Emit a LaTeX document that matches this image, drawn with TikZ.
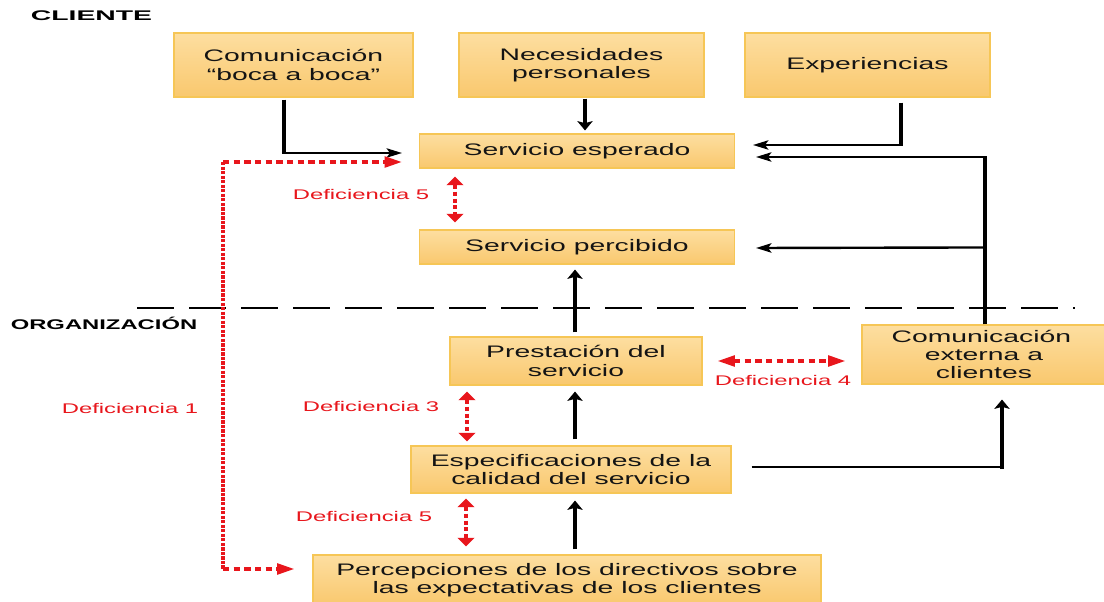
\documentclass[tikz,border=0pt]{standalone}
\usepackage{fontspec}
\setmainfont{Liberation Sans}
\newfontfamily\widefont[FakeStretch=1.7]{Liberation Sans}
\usetikzlibrary{arrows.meta,calc}
\definecolor{boxtop}{RGB}{253,222,160}
\definecolor{boxbot}{RGB}{249,200,110}
\definecolor{boxline}{RGB}{246,198,86}
\definecolor{defred}{RGB}{232,22,28}
\definecolor{txt}{RGB}{20,20,20}
\begin{document}
\begin{tikzpicture}[x=0.75pt,y=-0.75pt,
  box/.style={draw=boxline, line width=0.8pt, top color=boxtop, bottom color=boxbot,
    inner sep=0pt, align=center, text=txt,
    font=\widefont\fontsize{12.5}{13.6}\selectfont},
  sz/.style 2 args={minimum width=#1*0.75pt, minimum height=#2*0.75pt},
  head/.style={font=\widefont\bfseries\fontsize{10.5}{12}\selectfont, text=black, inner sep=0pt},
  deflab/.style={font=\widefont\fontsize{10.5}{12}\selectfont, text=defred, inner sep=0pt},
  vline/.style={draw=black, line width=3pt},
  hline/.style={draw=black, line width=1.8pt},
  arrV/.style={vline, -{Stealth[length=7pt,width=11.5pt,inset=1.5pt]}},
  arrH/.style={hline, -{Stealth[length=11.5pt,width=7pt,inset=2.5pt]}},
  redV/.style={draw=defred, line width=3.2pt, dash pattern=on 3pt off 2.2pt,
    {Triangle[length=6.5pt,width=12.5pt]}-{Triangle[length=6.5pt,width=12.5pt]}},
  redH/.style={draw=defred, line width=2.5pt, dash pattern=on 4.8pt off 3.2pt},
  redHtip/.style={-{Triangle[length=13pt,width=8pt]}},
  redHboth/.style={{Triangle[length=13pt,width=8pt]}-{Triangle[length=13pt,width=8pt]}},
  redVdot/.style={draw=defred, line width=3.6pt, dash pattern=on 2.4pt off 1pt}
]
\useasboundingbox (0,0) rectangle (1104,602);
\fill[white] (0,0) rectangle (1104,602);

% headings
\node[head] (cli) at (91.5,16) {\scalebox{1.19}[1]{CLIENTE}};
\node[head] (org) at (104,323) {ORGANIZACIÓN};

% separator
\draw[black, line width=1.6pt, dash pattern=on 27.5pt off 11.5pt] (137,308) coordinate (sepL) -- (1075,308) coordinate (sepR);

% boxes
\node[box, sz={239}{64}] (comm) at (293.5,65) {Comunicación\\“boca a boca”};
\node[box, sz={245}{64}] (nec) at (581.5,65) {Necesidades\\personales};
\node[box, sz={245}{64}] (exp) at (867.5,65) {Experiencias};
\node[box, sz={315}{34}] (esp) at (577,151) {Servicio esperado};
\node[box, sz={315}{34}] (perc) at (577,247) {Servicio percibido};
\node[box, sz={252}{48}] (prest) at (576,361) {Prestación del\\servicio};
\node[box, sz={244}{59}] (ext) at (984,354.5) {\hspace*{-4pt}Comunicación\\externa a\\clientes};
\node[box, sz={320}{47}] (espec) at (571,469.5) {Especificaciones de la\\calidad del servicio};
\node[box, sz={508}{50}] (percep) at (567,580) {Percepciones de los directivos sobre\\las expectativas de los clientes};

% black connectors
% boca a boca -> servicio esperado
\coordinate (c1s) at ($(comm.south)+(-10,2)$);
\coordinate (c1e) at ($(esp.west)+(-17,2)$);
\draw[vline] (c1s) -- (c1s |- c1e) coordinate (c1k);
\draw[arrH] ([xshift=-1.2pt]c1k) -- (c1e);
% necesidades -> servicio esperado
\draw[arrV] ($(nec.south)+(3.5,1)$) -- ($(esp.north)+(8,-3)$);
% experiencias -> servicio esperado
\coordinate (c2s) at ($(exp.south)+(33.5,5)$);
\coordinate (c2e) at ($(esp.east)+(18,-6)$);
\draw[vline] (c2s) -- (c2s |- c2e) coordinate (c2k);
\draw[arrH] ([xshift=1.2pt]c2k) -- (c2e);
% comunicacion externa -> servicio esperado / percibido
\coordinate (c3s) at ($(ext.north)+(1,0)$);
\coordinate (c3e) at ($(esp.east)+(21,6)$);
\draw[vline] (c3s) -- (c3s |- c3e) coordinate (c3k);
\draw[arrH] ([xshift=1.2pt]c3k) -- (c3e);
\draw[arrH] ($(ext.north)+(1,-77)$) -- ($(perc.east)+(21,1)$);
% internal chain
\draw[arrV] ($(prest.north)+(-1,-4)$) -- ($(perc.south)+(-2,5)$);
\draw[arrV] ($(espec.north)+(4,-6)$) -- ($(prest.south)+(-1,6)$);
\draw[arrV] ($(percep.north)+(8,-5)$) -- ($(espec.south)+(4,7)$);
% especificaciones -> comunicacion externa
\coordinate (c4s) at ($(espec.east)+(20,-2.5)$);
\coordinate (c4e) at ($(ext.south)+(18,15)$);
\draw[hline] (c4s) -- ([xshift=1.2pt]c4s -| c4e) coordinate (c4k);
\draw[arrV] (c4s -| c4e) ++(0,1.6) -- (c4e);

% red gaps
\coordinate (d1a) at (223,162);
\coordinate (d1b) at (223,569);
\draw[redH, redHtip] (d1a) -- ($(esp.west)+(-17,11)$);
\draw[redVdot] (d1a) -- (d1b);
\draw[redH, redHtip] (d1b) -- ($(percep.west)+(-18,-11)$);
\draw[redV] ($(esp.south)+(-122,8)$) -- ($(perc.north)+(-122,-7)$);
\draw[redV] ($(prest.south)+(-109,6)$) -- ($(espec.north)+(-104,-4)$);
\draw[redV] ($(espec.south)+(-105,5)$) -- ($(percep.north)+(-101,-8)$);
\draw[redH, redHboth] ($(prest.east)+(15,0)$) -- ($(ext.west)+(-16,6.5)$);

% red labels
\node[deflab] (l5a) at (361,194) {Deficiencia 5};
\node[deflab] (l1) at (130,408) {Deficiencia 1};
\node[deflab] (l3) at (371,406) {Deficiencia 3};
\node[deflab] (l5b) at (364,516) {Deficiencia 5};
\node[deflab] (l4) at (783,380) {Deficiencia 4};
\end{tikzpicture}
\end{document}
